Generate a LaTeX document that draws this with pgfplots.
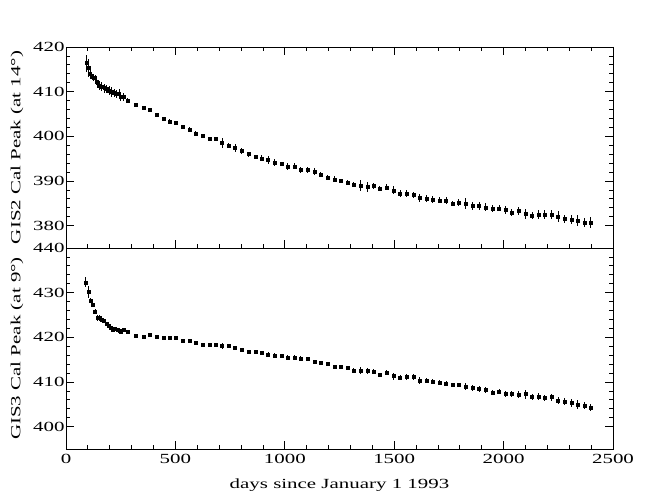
\documentclass[border=0pt]{standalone}
\usepackage{pgfplots}
\pgfplotsset{compat=1.18}
\usepackage{pgfplotstable}
\usepackage{fontspec}
\setmainfont{Liberation Serif}[FakeStretch=1.5]
\pgfplotstableread{
x y ey
95 416.4 1.9
102 415.3 2.0
110 414.0 1.2
117 413.6 0.8
125 413.1 0.8
133 413.1 0.7
140 412.3 0.9
151 411.3 1.0
163 411.2 1.0
175 410.8 1.0
186 410.6 0.9
197 410.3 1.0
209 409.9 1.1
220 409.7 0.8
232 409.5 0.9
243 409.5 1.0
251 408.8 0.9
262 408.8 0.8
283 408.0 0.5
318 407.1 0.4
353 406.3 0.3
384 405.9 0.4
414 404.8 0.5
445 403.9 0.5
475 403.3 0.5
503 403.0 0.4
533 402.1 0.5
564 401.5 0.5
594 400.6 0.6
624 400.2 0.4
655 399.4 0.5
684 399.4 0.5
713 398.5 1.2
743 398.0 0.5
773 397.4 0.8
804 396.7 0.7
834 396.0 0.6
865 395.5 0.4
894 395.1 0.7
924 394.7 0.8
955 394.1 0.8
985 393.8 0.5
1014 393.2 0.8
1045 393.3 0.7
1074 392.5 0.7
1105 392.5 0.6
1135 392.1 0.7
1165 391.4 0.6
1196 390.8 0.6
1226 390.4 0.7
1255 390.0 0.4
1286 389.6 0.6
1316 389.2 0.6
1347 389.0 1.2
1377 388.7 1.1
1406 388.9 0.6
1435 388.3 0.6
1466 388.6 0.7
1496 387.9 0.9
1527 387.2 0.8
1557 387.2 0.8
1587 386.9 0.7
1616 386.3 0.9
1647 386.1 0.8
1677 385.9 0.8
1706 385.7 0.7
1737 385.7 0.8
1767 385.0 0.6
1796 385.2 0.7
1827 385.0 1.3
1857 384.4 0.8
1888 384.4 0.9
1918 384.1 0.9
1948 383.9 0.8
1979 383.9 0.7
2008 383.5 0.8
2038 383.0 0.8
2069 383.3 0.9
2099 382.6 1.2
2130 382.2 0.8
2159 382.5 0.9
2189 382.5 0.9
2220 382.5 0.9
2249 382.1 1.2
2279 381.5 0.9
2310 381.3 1.0
2340 381.2 1.2
2369 380.7 1.0
2399 380.7 1.3
}\gistwo
\pgfplotstableread{
x y ey
91 432.3 1.1
104 430.2 1.3
113 428.2 0.6
123 427.2 0.4
133 425.8 0.6
143 424.3 0.6
154 424.3 0.6
165 424.0 0.4
174 423.7 0.4
184 423.0 0.4
193 422.6 0.4
204 422.1 0.4
213 421.8 0.4
224 422.0 0.4
234 421.7 0.4
244 421.4 0.4
251 421.2 0.4
262 421.6 0.4
283 421.2 0.4
318 420.4 0.3
353 420.2 0.3
384 420.5 0.3
414 420.1 0.3
445 419.9 0.3
475 420.0 0.4
503 420.0 0.3
533 419.3 0.3
564 419.3 0.3
594 418.7 0.4
624 418.4 0.4
655 418.4 0.3
684 418.4 0.4
713 418.1 0.6
743 418.1 0.4
773 417.7 0.4
804 417.3 0.3
834 416.8 0.4
865 416.8 0.4
894 416.6 0.4
924 416.2 0.6
955 416.0 0.6
985 415.8 0.4
1014 415.5 0.6
1045 415.5 0.6
1074 415.2 0.6
1105 415.3 0.4
1135 414.6 0.4
1165 414.3 0.4
1196 414.0 0.4
1226 413.5 0.4
1255 413.4 0.4
1286 413.1 0.4
1316 412.6 0.6
1347 412.6 0.8
1377 412.5 0.7
1406 412.4 0.4
1435 411.7 0.4
1466 412.1 0.6
1496 411.3 0.8
1527 411.0 0.6
1557 411.1 0.6
1587 411.1 0.6
1616 410.3 0.8
1647 410.3 0.6
1677 410.1 0.6
1706 409.9 0.6
1737 409.7 0.6
1767 409.3 0.4
1796 409.3 0.4
1827 409.0 0.8
1857 408.7 0.7
1888 408.4 0.7
1918 408.2 0.7
1948 407.6 0.6
1979 407.9 0.6
2008 407.3 0.7
2038 407.3 0.7
2069 407.2 0.7
2099 407.3 1.0
2130 406.6 0.7
2159 406.7 0.8
2189 406.4 0.7
2220 406.6 0.8
2249 405.9 0.8
2279 405.6 0.8
2310 405.3 0.8
2340 405.0 1.0
2369 404.7 0.8
2399 404.3 0.8
}\gisthree
\pgfplotsset{
  panel/.style={
    width=547bp, height=201bp, scale only axis,
    xmin=0, xmax=2500,
    xtick={0,500,...,2500},
    minor x tick num=4,
    minor y tick num=4,
    tick align=inside,
    major tick length=8bp,
    minor tick length=4bp,
    every tick/.style={black, line width=0.8pt},
    axis line style={line width=0.8pt},
    font=\fontsize{14}{16}\selectfont,
    /pgf/number format/assume math mode=true,
    /pgf/number format/set thousands separator={},
    yticklabel style={xshift=2bp},
    ylabel style={at={(axis description cs:-0.0896,0.5)}, anchor=center},
  },
  pts/.style={
    only marks, mark=square*, mark size=1.5bp, black,
    mark options={fill=black, draw=black},
    error bars/.cd,
      y dir=both, y explicit,
      x dir=both, x explicit,
      error mark=none,
      error bar style={line width=1pt, black},
  },
}
\begin{document}
\begin{tikzpicture}
\path[use as bounding box] (0,0) rectangle (650bp,498bp);
\begin{axis}[panel, at={(66bp,250bp)}, anchor=south west,
  ymin=375, ymax=420, ytick={380,390,...,420},
  xticklabels={}, xtick pos=both, ytick pos=both,
  ylabel={GIS2 Cal Peak (at 14°)}]
\addplot[pts] table[x=x, y=y, y error=ey, x error expr=7] {\gistwo};
\end{axis}
\begin{axis}[panel, at={(66bp,49bp)}, anchor=south west,
  ymin=395, ymax=440, ytick={400,410,...,440},
  xtick pos=bottom, ytick pos=both,
  xticklabel style={yshift=-2bp},
  ylabel={GIS3 Cal Peak (at 9°)},
  xlabel={days since January 1 1993},
  xlabel style={at={(axis description cs:0.5,-0.179)}, anchor=center}]
\addplot[pts] table[x=x, y=y, y error=ey, x error expr=7] {\gisthree};
\end{axis}
\end{tikzpicture}
\end{document}
